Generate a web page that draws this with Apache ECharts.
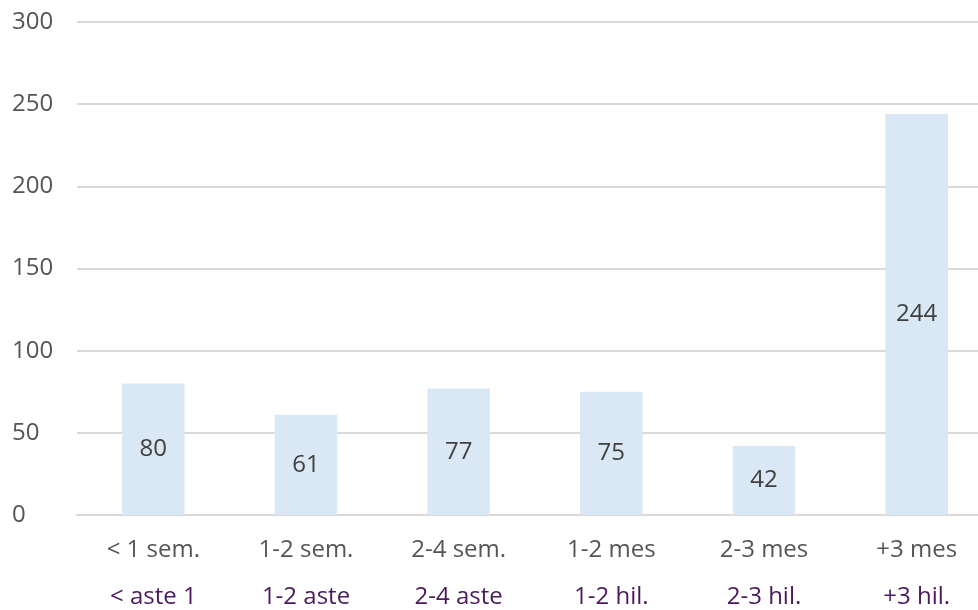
<!DOCTYPE html>
<html>
<head>
<meta charset="utf-8">
<script src="https://cdn.jsdelivr.net/npm/echarts@6/dist/echarts.min.js"></script>
<style>
  html, body { margin: 0; padding: 0; background: #fff; }
  #chart { width: 978px; height: 610px; }
</style>
</head>
<body>
<div id="chart"></div>
<script>
// Categorías (castellano / euskera)
const categoriesEs = ['< 1 sem.', '1-2 sem.', '2-4 sem.', '1-2 mes', '2-3 mes', '+3 mes'];
const categoriesEu = ['< aste 1', '1-2 aste', '2-4 aste', '1-2 hil.', '2-3 hil.', '+3 hil.'];
const values = [80, 61, 77, 75, 42, 244];

const chart = echarts.init(document.getElementById('chart'));

const option = {
    backgroundColor: '#ffffff',
    textStyle: { fontFamily: 'Open Sans' },
    grid: { left: 77, right: -15, top: 22, bottom: 95, outerBoundsMode: 'none' },
    xAxis: {
        type: 'category',
        data: categoriesEs.map((c, i) => i),
        axisLine: { lineStyle: { color: '#d9d9d9', width: 2 } },
        axisTick: { show: false },
        axisLabel: {
            interval: 0,
            margin: 12,
            formatter: (v, i) => `{a|${categoriesEs[i]}}\n{b|${categoriesEu[i]}}`,
            rich: {
                a: { color: '#555555', fontSize: 24, lineHeight: 47, fontFamily: 'Open Sans' },
                b: { color: '#4a1a5c', fontSize: 24, lineHeight: 47, fontFamily: 'Open Sans' }
            }
        }
    },
    yAxis: {
        type: 'value',
        min: 0,
        max: 300,
        interval: 50,
        axisLine: { show: false },
        axisTick: { show: false },
        axisLabel: {
            color: '#555555',
            fontSize: 24,
            align: 'left',
            margin: 65
        },
        splitLine: { lineStyle: { color: '#d9d9d9', width: 2 } }
    },
    series: [{
        type: 'bar',
        data: values,
        barWidth: '41%',
        itemStyle: { color: '#dae7f4' },
        label: {
            show: true,
            position: 'inside',
            color: '#404040',
            fontSize: 24
        }
    }]
};

chart.setOption(option);
</script>
</body>
</html>
